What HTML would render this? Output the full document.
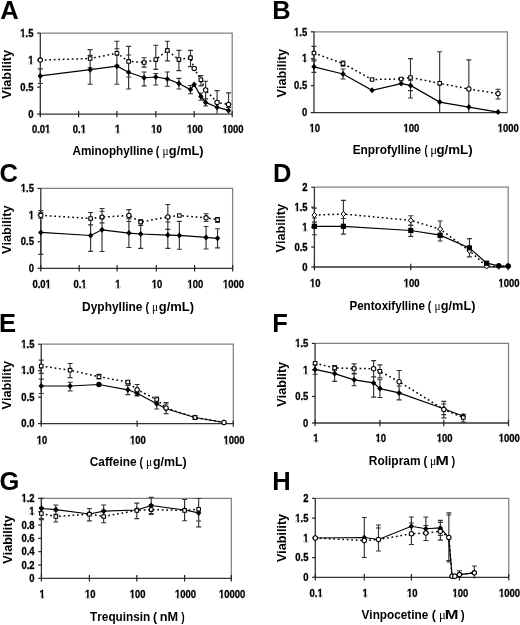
<!DOCTYPE html>
<html><head><meta charset="utf-8"><title>Viability figure</title><style>
html,body{margin:0;padding:0;background:#fff;}
body{width:520px;height:625px;overflow:hidden;}
svg{display:block;will-change:transform;}
text{font-kerning:none;}
text.tk{stroke:#000;stroke-width:0.3px;}
</style></head><body>
<svg width="520" height="625" viewBox="0 0 520 625">
<rect width="520" height="625" fill="#fff"/>
<g>
<path d="M40.3 33.1H232.2V114.1" fill="none" stroke="#808080" stroke-width="1.25"/>
<path d="M40.3 33.1V114.1H232.2" fill="none" stroke="#333" stroke-width="1.3"/>
<path d="M37.10 33.10H40.3" stroke="#222" stroke-width="1.2"/>
<g transform="translate(33.50,36.80) scale(0.91,1)"><text class="tk" font-size="10.4" font-weight="bold" text-anchor="end" font-family="Liberation Sans, sans-serif">1.5</text><rect x="-14.26" y="-1.31" width="2.08" height="1.96" fill="#fff"/><rect x="-10.45" y="-1.31" width="1.88" height="1.96" fill="#fff"/></g>
<path d="M37.10 60.10H40.3" stroke="#222" stroke-width="1.2"/>
<g transform="translate(33.50,63.80) scale(0.91,1)"><text class="tk" font-size="10.4" font-weight="bold" text-anchor="end" font-family="Liberation Sans, sans-serif">1</text><rect x="-5.58" y="-1.31" width="2.08" height="1.96" fill="#fff"/><rect x="-1.77" y="-1.31" width="1.88" height="1.96" fill="#fff"/></g>
<path d="M37.10 87.10H40.3" stroke="#222" stroke-width="1.2"/>
<g transform="translate(33.50,90.80) scale(0.91,1)"><text class="tk" font-size="10.4" font-weight="bold" text-anchor="end" font-family="Liberation Sans, sans-serif">0.5</text></g>
<path d="M37.10 114.10H40.3" stroke="#222" stroke-width="1.2"/>
<g transform="translate(33.50,117.80) scale(0.91,1)"><text class="tk" font-size="10.4" font-weight="bold" text-anchor="end" font-family="Liberation Sans, sans-serif">0</text></g>
<path d="M40.3 110.90V117.30" stroke="#222" stroke-width="1.2"/>
<g transform="translate(41.10,132.80) scale(0.91,1)"><text class="tk" font-size="10.4" font-weight="bold" text-anchor="middle" font-family="Liberation Sans, sans-serif">0.01</text><rect x="4.53" y="-1.31" width="2.08" height="1.96" fill="#fff"/><rect x="8.34" y="-1.31" width="1.88" height="1.96" fill="#fff"/></g>
<path d="M78.6 110.90V117.30" stroke="#222" stroke-width="1.2"/>
<g transform="translate(79.40,132.80) scale(0.91,1)"><text class="tk" font-size="10.4" font-weight="bold" text-anchor="middle" font-family="Liberation Sans, sans-serif">0.1</text><rect x="1.63" y="-1.31" width="2.09" height="1.96" fill="#fff"/><rect x="5.45" y="-1.31" width="1.88" height="1.96" fill="#fff"/></g>
<path d="M116.9 110.90V117.30" stroke="#222" stroke-width="1.2"/>
<g transform="translate(117.70,132.80) scale(0.91,1)"><text class="tk" font-size="10.4" font-weight="bold" text-anchor="middle" font-family="Liberation Sans, sans-serif">1</text><rect x="-2.69" y="-1.31" width="2.08" height="1.96" fill="#fff"/><rect x="1.12" y="-1.31" width="1.88" height="1.96" fill="#fff"/></g>
<path d="M155.8 110.90V117.30" stroke="#222" stroke-width="1.2"/>
<g transform="translate(156.60,132.80) scale(0.91,1)"><text class="tk" font-size="10.4" font-weight="bold" text-anchor="middle" font-family="Liberation Sans, sans-serif">10</text><rect x="-5.58" y="-1.31" width="2.08" height="1.96" fill="#fff"/><rect x="-1.77" y="-1.31" width="1.88" height="1.96" fill="#fff"/></g>
<path d="M194.2 110.90V117.30" stroke="#222" stroke-width="1.2"/>
<g transform="translate(195.00,132.80) scale(0.91,1)"><text class="tk" font-size="10.4" font-weight="bold" text-anchor="middle" font-family="Liberation Sans, sans-serif">100</text><rect x="-8.48" y="-1.31" width="2.08" height="1.96" fill="#fff"/><rect x="-4.67" y="-1.31" width="1.88" height="1.96" fill="#fff"/></g>
<path d="M232.2 110.90V117.30" stroke="#222" stroke-width="1.2"/>
<g transform="translate(233.00,132.80) scale(0.91,1)"><text class="tk" font-size="10.4" font-weight="bold" text-anchor="middle" font-family="Liberation Sans, sans-serif">1000</text><rect x="-11.36" y="-1.31" width="2.08" height="1.96" fill="#fff"/><rect x="-7.55" y="-1.31" width="1.88" height="1.96" fill="#fff"/></g>
<text x="72.41" y="154.8" textLength="80.89" lengthAdjust="spacingAndGlyphs" font-size="12" font-weight="bold" font-family="Liberation Sans, sans-serif">Aminophylline</text>
<text x="155.87" y="154.8" textLength="3.54" lengthAdjust="spacingAndGlyphs" font-size="12" font-weight="bold" font-family="Liberation Sans, sans-serif">(</text>
<text x="162.38" y="154.8" textLength="6.09" lengthAdjust="spacingAndGlyphs" font-size="12" font-family="Liberation Serif, serif">μ</text>
<text x="168.88" y="154.8" textLength="34.76" lengthAdjust="spacingAndGlyphs" font-size="12" font-weight="bold" font-family="Liberation Sans, sans-serif">g/mL)</text>
<text x="0.3" y="19" font-size="25.5" font-weight="bold" font-family="Liberation Sans, sans-serif">A</text>
<text transform="translate(11.1,74.35) rotate(-90)" textLength="48.8" lengthAdjust="spacingAndGlyphs" font-size="12.6" font-weight="bold" text-anchor="middle" font-family="Liberation Sans, sans-serif">Viability</text>
<path d="M90.13 49.6V67.7M87.63 49.6h5M87.63 67.7h5M116.90 41.2V65.4M114.40 41.2h5M114.40 65.4h5M128.61 46.4V77M126.11 46.4h5M126.11 77h5M144.09 57.7V67.1M141.59 57.7h5M141.59 67.1h5M155.80 45.2V69.4M153.30 45.2h5M153.30 69.4h5M167.36 41.2V60.8M164.86 41.2h5M164.86 60.8h5M178.92 50.4V70.6M176.42 50.4h5M176.42 70.6h5M190.48 50.4V66.6M187.98 50.4h5M187.98 66.6h5M200.89 75.6V85.8M198.39 75.6h5M198.39 85.8h5M205.64 81.25V98.75M203.14 81.25h5M203.14 98.75h5M217.08 90.6V113.4M214.58 90.6h5M228.52 92.8V113.4M226.02 92.8h5M40.30 68.8V83.5M37.80 68.8h5M37.80 83.5h5M90.13 55.4V84.2M87.63 55.4h5M87.63 84.2h5M116.90 48.7V84.2M114.40 48.7h5M114.40 84.2h5M128.61 55V89M126.11 55h5M126.11 89h5M144.09 72V85.8M141.59 72h5M141.59 85.8h5M155.80 73.5V85M153.30 73.5h5M153.30 85h5M167.36 72V86.2M164.86 72h5M164.86 86.2h5M178.92 78.4V89M176.42 78.4h5M176.42 89h5M190.48 85.5V93.7M187.98 85.5h5M187.98 93.7h5M200.89 93V100.2M198.39 93h5M198.39 100.2h5M205.64 99V106M203.14 99h5M203.14 106h5M217.08 101V113.4M214.58 101h5M228.52 107.5V113.4M226.02 107.5h5" fill="none" stroke="#333" stroke-width="1.15"/>
<path d="M40.30 60.1 L90.13 58.5 L116.90 53.3 L128.61 61.4 L144.09 62.5 L155.80 59.6 L167.36 50.4 L178.92 59.6 L190.48 57.7 L194.20 68.4 L200.89 79.8 L205.64 90 L217.08 102.4 L228.52 104.4" fill="none" stroke="#000" stroke-width="1.5" stroke-dasharray="1.7,2.8"/>
<path d="M40.30 75.9 L90.13 69.7 L116.90 66.2 L128.61 72.3 L144.09 77.75 L155.80 77 L167.36 78.9 L178.92 83.5 L190.48 89.6 L194.20 84.4 L200.89 96.6 L205.64 102.4 L217.08 107.2 L228.52 110.4" fill="none" stroke="#000" stroke-width="1.2"/>
<circle cx="40.30" cy="60.1" r="2.2" fill="#fff" stroke="#000" stroke-width="1.05"/>
<rect x="88.33" y="56.70" width="3.6" height="3.6" rx="0.3" fill="#fff" stroke="#000" stroke-width="1.1"/>
<rect x="115.10" y="51.50" width="3.6" height="3.6" rx="0.3" fill="#fff" stroke="#000" stroke-width="1.1"/>
<rect x="126.81" y="59.60" width="3.6" height="3.6" rx="0.3" fill="#fff" stroke="#000" stroke-width="1.1"/>
<rect x="142.29" y="60.70" width="3.6" height="3.6" rx="0.3" fill="#fff" stroke="#000" stroke-width="1.1"/>
<rect x="154.00" y="57.80" width="3.6" height="3.6" rx="0.3" fill="#fff" stroke="#000" stroke-width="1.1"/>
<rect x="165.56" y="48.60" width="3.6" height="3.6" rx="0.3" fill="#fff" stroke="#000" stroke-width="1.1"/>
<rect x="177.12" y="57.80" width="3.6" height="3.6" rx="0.3" fill="#fff" stroke="#000" stroke-width="1.1"/>
<rect x="188.68" y="55.90" width="3.6" height="3.6" rx="0.3" fill="#fff" stroke="#000" stroke-width="1.1"/>
<circle cx="194.20" cy="68.4" r="2.2" fill="#fff" stroke="#000" stroke-width="1.05"/>
<rect x="199.09" y="78.00" width="3.6" height="3.6" rx="0.3" fill="#fff" stroke="#000" stroke-width="1.1"/>
<circle cx="205.64" cy="90" r="2.2" fill="#fff" stroke="#000" stroke-width="1.05"/>
<circle cx="217.08" cy="102.4" r="2.2" fill="#fff" stroke="#000" stroke-width="1.05"/>
<circle cx="228.52" cy="104.4" r="2.2" fill="#fff" stroke="#000" stroke-width="1.05"/>
<path d="M40.30 72.90l2.7 3.0l-2.7 3.0l-2.7 -3.0z" fill="#000"/>
<path d="M90.13 66.70l2.7 3.0l-2.7 3.0l-2.7 -3.0z" fill="#000"/>
<path d="M116.90 63.20l2.7 3.0l-2.7 3.0l-2.7 -3.0z" fill="#000"/>
<path d="M128.61 69.30l2.7 3.0l-2.7 3.0l-2.7 -3.0z" fill="#000"/>
<path d="M144.09 74.75l2.7 3.0l-2.7 3.0l-2.7 -3.0z" fill="#000"/>
<path d="M155.80 74.00l2.7 3.0l-2.7 3.0l-2.7 -3.0z" fill="#000"/>
<path d="M167.36 75.90l2.7 3.0l-2.7 3.0l-2.7 -3.0z" fill="#000"/>
<path d="M178.92 80.50l2.7 3.0l-2.7 3.0l-2.7 -3.0z" fill="#000"/>
<path d="M190.48 86.60l2.7 3.0l-2.7 3.0l-2.7 -3.0z" fill="#000"/>
<path d="M194.20 81.40l2.7 3.0l-2.7 3.0l-2.7 -3.0z" fill="#000"/>
<path d="M200.89 93.60l2.7 3.0l-2.7 3.0l-2.7 -3.0z" fill="#000"/>
<path d="M205.64 99.40l2.7 3.0l-2.7 3.0l-2.7 -3.0z" fill="#000"/>
<path d="M217.08 104.20l2.7 3.0l-2.7 3.0l-2.7 -3.0z" fill="#000"/>
<path d="M228.52 107.40l2.7 3.0l-2.7 3.0l-2.7 -3.0z" fill="#000"/>
</g>
<g>
<path d="M313.96 31.8H507.4V112.6" fill="none" stroke="#808080" stroke-width="1.25"/>
<path d="M313.96 31.8V112.6H507.4" fill="none" stroke="#333" stroke-width="1.3"/>
<path d="M310.76 31.80H313.96" stroke="#222" stroke-width="1.2"/>
<g transform="translate(307.16,35.50) scale(0.91,1)"><text class="tk" font-size="10.4" font-weight="bold" text-anchor="end" font-family="Liberation Sans, sans-serif">1.5</text><rect x="-14.26" y="-1.31" width="2.08" height="1.96" fill="#fff"/><rect x="-10.45" y="-1.31" width="1.88" height="1.96" fill="#fff"/></g>
<path d="M310.76 58.73H313.96" stroke="#222" stroke-width="1.2"/>
<g transform="translate(307.16,62.43) scale(0.91,1)"><text class="tk" font-size="10.4" font-weight="bold" text-anchor="end" font-family="Liberation Sans, sans-serif">1</text><rect x="-5.58" y="-1.31" width="2.08" height="1.96" fill="#fff"/><rect x="-1.77" y="-1.31" width="1.88" height="1.96" fill="#fff"/></g>
<path d="M310.76 85.67H313.96" stroke="#222" stroke-width="1.2"/>
<g transform="translate(307.16,89.37) scale(0.91,1)"><text class="tk" font-size="10.4" font-weight="bold" text-anchor="end" font-family="Liberation Sans, sans-serif">0.5</text></g>
<path d="M310.76 112.60H313.96" stroke="#222" stroke-width="1.2"/>
<g transform="translate(307.16,116.30) scale(0.91,1)"><text class="tk" font-size="10.4" font-weight="bold" text-anchor="end" font-family="Liberation Sans, sans-serif">0</text></g>
<g transform="translate(314.76,131.80) scale(0.91,1)"><text class="tk" font-size="10.4" font-weight="bold" text-anchor="middle" font-family="Liberation Sans, sans-serif">10</text><rect x="-5.58" y="-1.31" width="2.08" height="1.96" fill="#fff"/><rect x="-1.77" y="-1.31" width="1.88" height="1.96" fill="#fff"/></g>
<g transform="translate(411.30,131.80) scale(0.91,1)"><text class="tk" font-size="10.4" font-weight="bold" text-anchor="middle" font-family="Liberation Sans, sans-serif">100</text><rect x="-8.48" y="-1.31" width="2.08" height="1.96" fill="#fff"/><rect x="-4.67" y="-1.31" width="1.88" height="1.96" fill="#fff"/></g>
<g transform="translate(508.20,131.80) scale(0.91,1)"><text class="tk" font-size="10.4" font-weight="bold" text-anchor="middle" font-family="Liberation Sans, sans-serif">1000</text><rect x="-11.36" y="-1.31" width="2.08" height="1.96" fill="#fff"/><rect x="-7.55" y="-1.31" width="1.88" height="1.96" fill="#fff"/></g>
<text x="352.71" y="154.3" textLength="68.50" lengthAdjust="spacingAndGlyphs" font-size="12" font-weight="bold" font-family="Liberation Sans, sans-serif">Enprofylline</text>
<text x="424.52" y="154.3" textLength="3.19" lengthAdjust="spacingAndGlyphs" font-size="12" font-weight="bold" font-family="Liberation Sans, sans-serif">(</text>
<text x="430.16" y="154.3" textLength="6.86" lengthAdjust="spacingAndGlyphs" font-size="12" font-family="Liberation Serif, serif">μ</text>
<text x="436.45" y="154.3" textLength="36.21" lengthAdjust="spacingAndGlyphs" font-size="12" font-weight="bold" font-family="Liberation Sans, sans-serif">g/mL)</text>
<text x="272.3" y="19" font-size="25.5" font-weight="bold" font-family="Liberation Sans, sans-serif">B</text>
<text transform="translate(285.7,73.3) rotate(-90)" textLength="48.5" lengthAdjust="spacingAndGlyphs" font-size="12.6" font-weight="bold" text-anchor="middle" font-family="Liberation Sans, sans-serif">Viability</text>
<path d="M313.96 46.3V59.7M311.46 46.3h5M311.46 59.7h5M343.02 61.1V66.1M340.52 61.1h5M340.52 66.1h5M410.50 58.6V98M408.00 58.6h5M408.00 98h5M439.67 51.7V112.6M437.17 51.7h5M468.84 59.8V112.6M466.34 59.8h5M498.01 89.2V99M495.51 89.2h5M495.51 99h5M313.96 61V72.4M311.46 61h5M311.46 72.4h5M343.02 69V79M340.52 69h5M340.52 79h5M410.50 80.2V90.6M408.00 80.2h5M408.00 90.6h5" fill="none" stroke="#333" stroke-width="1.15"/>
<path d="M313.96 53 L343.02 63.6 L372.08 79.5 L401.14 79 L410.50 77.5 L439.67 83.3 L468.84 89 L498.01 93.6" fill="none" stroke="#000" stroke-width="1.5" stroke-dasharray="1.7,2.8"/>
<path d="M313.96 66.8 L343.02 74 L372.08 90.3 L401.14 83.6 L410.50 85.4 L439.67 102.1 L468.84 107.1 L498.01 112.1" fill="none" stroke="#000" stroke-width="1.2"/>
<rect x="312.16" y="51.20" width="3.6" height="3.6" rx="0.3" fill="#fff" stroke="#000" stroke-width="1.1"/>
<rect x="341.22" y="61.80" width="3.6" height="3.6" rx="0.3" fill="#fff" stroke="#000" stroke-width="1.1"/>
<rect x="370.28" y="77.70" width="3.6" height="3.6" rx="0.3" fill="#fff" stroke="#000" stroke-width="1.1"/>
<rect x="399.34" y="77.20" width="3.6" height="3.6" rx="0.3" fill="#fff" stroke="#000" stroke-width="1.1"/>
<rect x="408.70" y="75.70" width="3.6" height="3.6" rx="0.3" fill="#fff" stroke="#000" stroke-width="1.1"/>
<rect x="437.87" y="81.50" width="3.6" height="3.6" rx="0.3" fill="#fff" stroke="#000" stroke-width="1.1"/>
<circle cx="468.84" cy="89" r="2.2" fill="#fff" stroke="#000" stroke-width="1.05"/>
<circle cx="498.01" cy="93.6" r="2.2" fill="#fff" stroke="#000" stroke-width="1.05"/>
<path d="M313.96 63.80l2.7 3.0l-2.7 3.0l-2.7 -3.0z" fill="#000"/>
<path d="M343.02 71.00l2.7 3.0l-2.7 3.0l-2.7 -3.0z" fill="#000"/>
<path d="M372.08 87.30l2.7 3.0l-2.7 3.0l-2.7 -3.0z" fill="#000"/>
<path d="M401.14 80.60l2.7 3.0l-2.7 3.0l-2.7 -3.0z" fill="#000"/>
<path d="M410.50 82.40l2.7 3.0l-2.7 3.0l-2.7 -3.0z" fill="#000"/>
<path d="M439.67 99.10l2.7 3.0l-2.7 3.0l-2.7 -3.0z" fill="#000"/>
<path d="M468.84 104.10l2.7 3.0l-2.7 3.0l-2.7 -3.0z" fill="#000"/>
<path d="M498.01 109.10l2.7 3.0l-2.7 3.0l-2.7 -3.0z" fill="#000"/>
</g>
<g>
<path d="M40.8 188.4H232.6V268.3" fill="none" stroke="#808080" stroke-width="1.25"/>
<path d="M40.8 188.4V268.3H232.6" fill="none" stroke="#333" stroke-width="1.3"/>
<path d="M37.60 188.40H40.8" stroke="#222" stroke-width="1.2"/>
<g transform="translate(34.00,192.10) scale(0.91,1)"><text class="tk" font-size="10.4" font-weight="bold" text-anchor="end" font-family="Liberation Sans, sans-serif">1.5</text><rect x="-14.26" y="-1.31" width="2.08" height="1.96" fill="#fff"/><rect x="-10.45" y="-1.31" width="1.88" height="1.96" fill="#fff"/></g>
<path d="M37.60 215.03H40.8" stroke="#222" stroke-width="1.2"/>
<g transform="translate(34.00,218.73) scale(0.91,1)"><text class="tk" font-size="10.4" font-weight="bold" text-anchor="end" font-family="Liberation Sans, sans-serif">1</text><rect x="-5.58" y="-1.31" width="2.08" height="1.96" fill="#fff"/><rect x="-1.77" y="-1.31" width="1.88" height="1.96" fill="#fff"/></g>
<path d="M37.60 241.67H40.8" stroke="#222" stroke-width="1.2"/>
<g transform="translate(34.00,245.37) scale(0.91,1)"><text class="tk" font-size="10.4" font-weight="bold" text-anchor="end" font-family="Liberation Sans, sans-serif">0.5</text></g>
<path d="M37.60 268.30H40.8" stroke="#222" stroke-width="1.2"/>
<g transform="translate(34.00,272.00) scale(0.91,1)"><text class="tk" font-size="10.4" font-weight="bold" text-anchor="end" font-family="Liberation Sans, sans-serif">0</text></g>
<path d="M40.8 265.10V271.50" stroke="#222" stroke-width="1.2"/>
<g transform="translate(41.60,287.60) scale(0.91,1)"><text class="tk" font-size="10.4" font-weight="bold" text-anchor="middle" font-family="Liberation Sans, sans-serif">0.01</text><rect x="4.53" y="-1.31" width="2.08" height="1.96" fill="#fff"/><rect x="8.34" y="-1.31" width="1.88" height="1.96" fill="#fff"/></g>
<path d="M79.2 265.10V271.50" stroke="#222" stroke-width="1.2"/>
<g transform="translate(80.00,287.60) scale(0.91,1)"><text class="tk" font-size="10.4" font-weight="bold" text-anchor="middle" font-family="Liberation Sans, sans-serif">0.1</text><rect x="1.63" y="-1.31" width="2.09" height="1.96" fill="#fff"/><rect x="5.45" y="-1.31" width="1.88" height="1.96" fill="#fff"/></g>
<path d="M117.1 265.10V271.50" stroke="#222" stroke-width="1.2"/>
<g transform="translate(117.90,287.60) scale(0.91,1)"><text class="tk" font-size="10.4" font-weight="bold" text-anchor="middle" font-family="Liberation Sans, sans-serif">1</text><rect x="-2.69" y="-1.31" width="2.08" height="1.96" fill="#fff"/><rect x="1.12" y="-1.31" width="1.88" height="1.96" fill="#fff"/></g>
<path d="M156.3 265.10V271.50" stroke="#222" stroke-width="1.2"/>
<g transform="translate(157.10,287.60) scale(0.91,1)"><text class="tk" font-size="10.4" font-weight="bold" text-anchor="middle" font-family="Liberation Sans, sans-serif">10</text><rect x="-5.58" y="-1.31" width="2.08" height="1.96" fill="#fff"/><rect x="-1.77" y="-1.31" width="1.88" height="1.96" fill="#fff"/></g>
<path d="M194.6 265.10V271.50" stroke="#222" stroke-width="1.2"/>
<g transform="translate(195.40,287.60) scale(0.91,1)"><text class="tk" font-size="10.4" font-weight="bold" text-anchor="middle" font-family="Liberation Sans, sans-serif">100</text><rect x="-8.48" y="-1.31" width="2.08" height="1.96" fill="#fff"/><rect x="-4.67" y="-1.31" width="1.88" height="1.96" fill="#fff"/></g>
<path d="M232.7 265.10V271.50" stroke="#222" stroke-width="1.2"/>
<g transform="translate(233.50,287.60) scale(0.91,1)"><text class="tk" font-size="10.4" font-weight="bold" text-anchor="middle" font-family="Liberation Sans, sans-serif">1000</text><rect x="-11.36" y="-1.31" width="2.08" height="1.96" fill="#fff"/><rect x="-7.55" y="-1.31" width="1.88" height="1.96" fill="#fff"/></g>
<text x="82.10" y="311.4" textLength="60.41" lengthAdjust="spacingAndGlyphs" font-size="12" font-weight="bold" font-family="Liberation Sans, sans-serif">Dyphylline</text>
<text x="145.47" y="311.4" textLength="3.54" lengthAdjust="spacingAndGlyphs" font-size="12" font-weight="bold" font-family="Liberation Sans, sans-serif">(</text>
<text x="151.98" y="311.4" textLength="6.09" lengthAdjust="spacingAndGlyphs" font-size="12" font-family="Liberation Serif, serif">μ</text>
<text x="158.87" y="311.4" textLength="35.17" lengthAdjust="spacingAndGlyphs" font-size="12" font-weight="bold" font-family="Liberation Sans, sans-serif">g/mL)</text>
<text x="-0.5" y="181.5" font-size="25.5" font-weight="bold" font-family="Liberation Sans, sans-serif">C</text>
<text transform="translate(11.0,229.75) rotate(-90)" textLength="48.6" lengthAdjust="spacingAndGlyphs" font-size="12.6" font-weight="bold" text-anchor="middle" font-family="Liberation Sans, sans-serif">Viability</text>
<path d="M40.80 212.4V218.2M38.30 212.4h5M38.30 218.2h5M90.61 212.5V224.8M88.11 212.5h5M88.11 224.8h5M102.02 211.2V222.9M99.52 211.2h5M99.52 222.9h5M128.90 209.6V221.5M126.40 209.6h5M126.40 221.5h5M140.70 219.5V225.5M138.20 219.5h5M138.20 225.5h5M167.83 204.5V229.4M165.33 204.5h5M165.33 229.4h5M206.07 213.7V221.5M203.57 213.7h5M203.57 221.5h5M217.54 217.5V222.3M215.04 217.5h5M215.04 222.3h5M40.80 210.5V254.3M38.30 210.5h5M38.30 254.3h5M90.61 219.7V251.3M88.11 219.7h5M88.11 251.3h5M102.02 208.5V251.5M99.52 208.5h5M99.52 251.5h5M128.90 218.7V247.5M126.40 218.7h5M126.40 247.5h5M140.70 219.7V248.3M138.20 219.7h5M138.20 248.3h5M167.83 222V248.3M165.33 222h5M165.33 248.3h5M179.36 221.3V249.2M176.86 221.3h5M176.86 249.2h5M206.07 226.5V249M203.57 226.5h5M203.57 249h5M217.54 228.7V247.9M215.04 228.7h5M215.04 247.9h5" fill="none" stroke="#333" stroke-width="1.15"/>
<path d="M40.80 215.3 L90.61 218.5 L102.02 217.1 L128.90 215.5 L140.70 222.1 L167.83 216.9 L179.36 215.5 L206.07 217.8 L217.54 219.7" fill="none" stroke="#000" stroke-width="1.5" stroke-dasharray="1.7,2.8"/>
<path d="M40.80 232.4 L90.61 235.5 L102.02 229.8 L128.90 233.1 L140.70 234 L167.83 235.1 L179.36 235.4 L206.07 237.4 L217.54 238.3" fill="none" stroke="#000" stroke-width="1.2"/>
<circle cx="40.80" cy="215.3" r="2.2" fill="#fff" stroke="#000" stroke-width="1.05"/>
<rect x="88.81" y="216.70" width="3.6" height="3.6" rx="0.3" fill="#fff" stroke="#000" stroke-width="1.1"/>
<rect x="100.22" y="215.30" width="3.6" height="3.6" rx="0.3" fill="#fff" stroke="#000" stroke-width="1.1"/>
<circle cx="128.90" cy="215.5" r="2.2" fill="#fff" stroke="#000" stroke-width="1.05"/>
<rect x="138.90" y="220.30" width="3.6" height="3.6" rx="0.3" fill="#fff" stroke="#000" stroke-width="1.1"/>
<circle cx="167.83" cy="216.9" r="2.2" fill="#fff" stroke="#000" stroke-width="1.05"/>
<rect x="177.56" y="213.70" width="3.6" height="3.6" rx="0.3" fill="#fff" stroke="#000" stroke-width="1.1"/>
<circle cx="206.07" cy="217.8" r="2.2" fill="#fff" stroke="#000" stroke-width="1.05"/>
<rect x="215.74" y="217.90" width="3.6" height="3.6" rx="0.3" fill="#fff" stroke="#000" stroke-width="1.1"/>
<path d="M40.80 229.40l2.7 3.0l-2.7 3.0l-2.7 -3.0z" fill="#000"/>
<path d="M90.61 232.50l2.7 3.0l-2.7 3.0l-2.7 -3.0z" fill="#000"/>
<path d="M102.02 226.80l2.7 3.0l-2.7 3.0l-2.7 -3.0z" fill="#000"/>
<path d="M128.90 230.10l2.7 3.0l-2.7 3.0l-2.7 -3.0z" fill="#000"/>
<path d="M140.70 231.00l2.7 3.0l-2.7 3.0l-2.7 -3.0z" fill="#000"/>
<path d="M167.83 232.10l2.7 3.0l-2.7 3.0l-2.7 -3.0z" fill="#000"/>
<path d="M179.36 232.40l2.7 3.0l-2.7 3.0l-2.7 -3.0z" fill="#000"/>
<path d="M206.07 234.40l2.7 3.0l-2.7 3.0l-2.7 -3.0z" fill="#000"/>
<path d="M217.54 235.30l2.7 3.0l-2.7 3.0l-2.7 -3.0z" fill="#000"/>
</g>
<g>
<path d="M314.4 187.2H508.2V267.0" fill="none" stroke="#808080" stroke-width="1.25"/>
<path d="M314.4 187.2V267.0H508.2" fill="none" stroke="#333" stroke-width="1.3"/>
<path d="M311.20 187.20H314.4" stroke="#222" stroke-width="1.2"/>
<g transform="translate(307.60,190.90) scale(0.91,1)"><text class="tk" font-size="10.4" font-weight="bold" text-anchor="end" font-family="Liberation Sans, sans-serif">2</text></g>
<path d="M311.20 207.15H314.4" stroke="#222" stroke-width="1.2"/>
<g transform="translate(307.60,210.85) scale(0.91,1)"><text class="tk" font-size="10.4" font-weight="bold" text-anchor="end" font-family="Liberation Sans, sans-serif">1.5</text><rect x="-14.26" y="-1.31" width="2.08" height="1.96" fill="#fff"/><rect x="-10.45" y="-1.31" width="1.88" height="1.96" fill="#fff"/></g>
<path d="M311.20 227.10H314.4" stroke="#222" stroke-width="1.2"/>
<g transform="translate(307.60,230.80) scale(0.91,1)"><text class="tk" font-size="10.4" font-weight="bold" text-anchor="end" font-family="Liberation Sans, sans-serif">1</text><rect x="-5.58" y="-1.31" width="2.08" height="1.96" fill="#fff"/><rect x="-1.77" y="-1.31" width="1.88" height="1.96" fill="#fff"/></g>
<path d="M311.20 247.05H314.4" stroke="#222" stroke-width="1.2"/>
<g transform="translate(307.60,250.75) scale(0.91,1)"><text class="tk" font-size="10.4" font-weight="bold" text-anchor="end" font-family="Liberation Sans, sans-serif">0.5</text></g>
<path d="M311.20 267.00H314.4" stroke="#222" stroke-width="1.2"/>
<g transform="translate(307.60,270.70) scale(0.91,1)"><text class="tk" font-size="10.4" font-weight="bold" text-anchor="end" font-family="Liberation Sans, sans-serif">0</text></g>
<path d="M314.4 263.80V270.20" stroke="#222" stroke-width="1.2"/>
<g transform="translate(315.20,286.60) scale(0.91,1)"><text class="tk" font-size="10.4" font-weight="bold" text-anchor="middle" font-family="Liberation Sans, sans-serif">10</text><rect x="-5.58" y="-1.31" width="2.08" height="1.96" fill="#fff"/><rect x="-1.77" y="-1.31" width="1.88" height="1.96" fill="#fff"/></g>
<path d="M410.8 263.80V270.20" stroke="#222" stroke-width="1.2"/>
<g transform="translate(411.60,286.60) scale(0.91,1)"><text class="tk" font-size="10.4" font-weight="bold" text-anchor="middle" font-family="Liberation Sans, sans-serif">100</text><rect x="-8.48" y="-1.31" width="2.08" height="1.96" fill="#fff"/><rect x="-4.67" y="-1.31" width="1.88" height="1.96" fill="#fff"/></g>
<path d="M508.2 263.80V270.20" stroke="#222" stroke-width="1.2"/>
<g transform="translate(509.00,286.60) scale(0.91,1)"><text class="tk" font-size="10.4" font-weight="bold" text-anchor="middle" font-family="Liberation Sans, sans-serif">1000</text><rect x="-11.36" y="-1.31" width="2.08" height="1.96" fill="#fff"/><rect x="-7.55" y="-1.31" width="1.88" height="1.96" fill="#fff"/></g>
<text x="349.42" y="310.2" textLength="75.47" lengthAdjust="spacingAndGlyphs" font-size="12" font-weight="bold" font-family="Liberation Sans, sans-serif">Pentoxifylline</text>
<text x="427.87" y="310.2" textLength="3.54" lengthAdjust="spacingAndGlyphs" font-size="12" font-weight="bold" font-family="Liberation Sans, sans-serif">(</text>
<text x="434.38" y="310.2" textLength="6.09" lengthAdjust="spacingAndGlyphs" font-size="12" font-family="Liberation Serif, serif">μ</text>
<text x="440.78" y="310.2" textLength="34.66" lengthAdjust="spacingAndGlyphs" font-size="12" font-weight="bold" font-family="Liberation Sans, sans-serif">g/mL)</text>
<text x="273.1" y="182" font-size="25.5" font-weight="bold" font-family="Liberation Sans, sans-serif">D</text>
<text transform="translate(285.2,228.3) rotate(-90)" textLength="48.5" lengthAdjust="spacingAndGlyphs" font-size="12.6" font-weight="bold" text-anchor="middle" font-family="Liberation Sans, sans-serif">Viability</text>
<path d="M314.40 208.1V222.1M311.90 208.1h5M311.90 222.1h5M343.42 200.3V227.7M340.92 200.3h5M340.92 227.7h5M410.80 215.7V225.1M408.30 215.7h5M408.30 225.1h5M440.12 221V237.2M437.62 221h5M437.62 237.2h5M314.40 218V234.7M311.90 218h5M311.90 234.7h5M343.42 218.5V234.1M340.92 218.5h5M340.92 234.1h5M410.80 225.5V236.4M408.30 225.5h5M408.30 236.4h5M440.12 229.4V241M437.62 229.4h5M437.62 241h5M469.44 238.6V256.8M466.94 238.6h5M466.94 256.8h5" fill="none" stroke="#333" stroke-width="1.15"/>
<path d="M314.40 215.1 L343.42 214 L410.80 220.4 L440.12 229.1 L469.44 250.8 L486.59 266.3 L498.76 266.5 L508.20 266.5" fill="none" stroke="#000" stroke-width="1.5" stroke-dasharray="1.7,2.8"/>
<path d="M314.40 226.3 L343.42 226.3 L410.80 230.5 L440.12 235.2 L469.44 247.9 L486.59 263.2 L498.76 265.8 L508.20 266" fill="none" stroke="#000" stroke-width="1.2"/>
<path d="M314.40 212.40l2.4 2.7l-2.4 2.7l-2.4 -2.7z" fill="#fff" stroke="#000" stroke-width="1"/>
<path d="M343.42 211.30l2.4 2.7l-2.4 2.7l-2.4 -2.7z" fill="#fff" stroke="#000" stroke-width="1"/>
<path d="M410.80 217.70l2.4 2.7l-2.4 2.7l-2.4 -2.7z" fill="#fff" stroke="#000" stroke-width="1"/>
<path d="M440.12 226.40l2.4 2.7l-2.4 2.7l-2.4 -2.7z" fill="#fff" stroke="#000" stroke-width="1"/>
<path d="M469.44 248.10l2.4 2.7l-2.4 2.7l-2.4 -2.7z" fill="#fff" stroke="#000" stroke-width="1"/>
<path d="M486.59 263.60l2.4 2.7l-2.4 2.7l-2.4 -2.7z" fill="#fff" stroke="#000" stroke-width="1"/>
<path d="M498.76 263.80l2.4 2.7l-2.4 2.7l-2.4 -2.7z" fill="#fff" stroke="#000" stroke-width="1"/>
<path d="M508.20 263.80l2.4 2.7l-2.4 2.7l-2.4 -2.7z" fill="#fff" stroke="#000" stroke-width="1"/>
<rect x="311.80" y="223.70" width="5.2" height="5.2" fill="#000"/>
<rect x="340.82" y="223.70" width="5.2" height="5.2" fill="#000"/>
<rect x="408.20" y="227.90" width="5.2" height="5.2" fill="#000"/>
<rect x="437.52" y="232.60" width="5.2" height="5.2" fill="#000"/>
<rect x="466.84" y="245.30" width="5.2" height="5.2" fill="#000"/>
<rect x="483.99" y="260.60" width="5.2" height="5.2" fill="#000"/>
<circle cx="498.76" cy="265.8" r="2.7" fill="#000"/>
<circle cx="508.20" cy="266" r="2.7" fill="#000"/>
</g>
<g>
<path d="M41.25 344.2H233.3V423.6" fill="none" stroke="#808080" stroke-width="1.25"/>
<path d="M41.25 344.2V423.6H233.3" fill="none" stroke="#333" stroke-width="1.3"/>
<path d="M38.05 344.20H41.25" stroke="#222" stroke-width="1.2"/>
<g transform="translate(34.45,347.90) scale(0.91,1)"><text class="tk" font-size="10.4" font-weight="bold" text-anchor="end" font-family="Liberation Sans, sans-serif">1.5</text><rect x="-14.26" y="-1.31" width="2.08" height="1.96" fill="#fff"/><rect x="-10.45" y="-1.31" width="1.88" height="1.96" fill="#fff"/></g>
<path d="M38.05 370.67H41.25" stroke="#222" stroke-width="1.2"/>
<g transform="translate(34.45,374.37) scale(0.91,1)"><text class="tk" font-size="10.4" font-weight="bold" text-anchor="end" font-family="Liberation Sans, sans-serif">1.0</text><rect x="-14.26" y="-1.31" width="2.08" height="1.96" fill="#fff"/><rect x="-10.45" y="-1.31" width="1.88" height="1.96" fill="#fff"/></g>
<path d="M38.05 397.13H41.25" stroke="#222" stroke-width="1.2"/>
<g transform="translate(34.45,400.83) scale(0.91,1)"><text class="tk" font-size="10.4" font-weight="bold" text-anchor="end" font-family="Liberation Sans, sans-serif">0.5</text></g>
<path d="M38.05 423.60H41.25" stroke="#222" stroke-width="1.2"/>
<g transform="translate(34.45,427.30) scale(0.91,1)"><text class="tk" font-size="10.4" font-weight="bold" text-anchor="end" font-family="Liberation Sans, sans-serif">0.0</text></g>
<path d="M41.25 420.40V426.80" stroke="#222" stroke-width="1.2"/>
<g transform="translate(42.05,443.60) scale(0.91,1)"><text class="tk" font-size="10.4" font-weight="bold" text-anchor="middle" font-family="Liberation Sans, sans-serif">10</text><rect x="-5.58" y="-1.31" width="2.08" height="1.96" fill="#fff"/><rect x="-1.77" y="-1.31" width="1.88" height="1.96" fill="#fff"/></g>
<path d="M137.1 420.40V426.80" stroke="#222" stroke-width="1.2"/>
<g transform="translate(137.90,443.60) scale(0.91,1)"><text class="tk" font-size="10.4" font-weight="bold" text-anchor="middle" font-family="Liberation Sans, sans-serif">100</text><rect x="-8.48" y="-1.31" width="2.08" height="1.96" fill="#fff"/><rect x="-4.67" y="-1.31" width="1.88" height="1.96" fill="#fff"/></g>
<path d="M233.3 420.40V426.80" stroke="#222" stroke-width="1.2"/>
<g transform="translate(234.10,443.60) scale(0.91,1)"><text class="tk" font-size="10.4" font-weight="bold" text-anchor="middle" font-family="Liberation Sans, sans-serif">1000</text><rect x="-11.36" y="-1.31" width="2.08" height="1.96" fill="#fff"/><rect x="-7.55" y="-1.31" width="1.88" height="1.96" fill="#fff"/></g>
<text x="89.71" y="465.9" textLength="46.89" lengthAdjust="spacingAndGlyphs" font-size="12" font-weight="bold" font-family="Liberation Sans, sans-serif">Caffeine</text>
<text x="139.57" y="465.9" textLength="3.54" lengthAdjust="spacingAndGlyphs" font-size="12" font-weight="bold" font-family="Liberation Sans, sans-serif">(</text>
<text x="146.06" y="465.9" textLength="6.22" lengthAdjust="spacingAndGlyphs" font-size="12" font-family="Liberation Serif, serif">μ</text>
<text x="152.99" y="465.9" textLength="33.73" lengthAdjust="spacingAndGlyphs" font-size="12" font-weight="bold" font-family="Liberation Sans, sans-serif">g/mL)</text>
<text x="-0.9" y="332" font-size="25.5" font-weight="bold" font-family="Liberation Sans, sans-serif">E</text>
<text transform="translate(11.2,385.25) rotate(-90)" textLength="48.6" lengthAdjust="spacingAndGlyphs" font-size="12.6" font-weight="bold" text-anchor="middle" font-family="Liberation Sans, sans-serif">Viability</text>
<path d="M41.25 360.1V373.3M38.75 360.1h5M38.75 373.3h5M70.10 363.5V377.6M67.60 363.5h5M67.60 377.6h5M98.96 374.4V379M96.46 374.4h5M96.46 379h5M127.81 380.5V383.7M125.31 380.5h5M125.31 383.7h5M137.10 384.5V395M134.60 384.5h5M134.60 395h5M156.74 397V402M154.24 397h5M154.24 402h5M166.06 402.5V413.5M163.56 402.5h5M163.56 413.5h5M195.02 415.5V419.5M192.52 415.5h5M192.52 419.5h5M41.25 379.1V393.5M38.75 379.1h5M38.75 393.5h5M70.10 382.2V391M67.60 382.2h5M67.60 391h5M127.81 385.5V394.6M125.31 385.5h5M125.31 394.6h5M137.10 390.5V396M134.60 390.5h5M134.60 396h5M156.74 398.5V409M154.24 398.5h5M154.24 409h5M166.06 404V413.75M163.56 404h5M163.56 413.75h5M195.02 415.5V419.5M192.52 415.5h5M192.52 419.5h5" fill="none" stroke="#333" stroke-width="1.15"/>
<path d="M41.25 366.1 L70.10 370.2 L98.96 376.7 L127.81 382.1 L137.10 389.8 L156.74 399.5 L166.06 408 L195.02 417.5 L223.98 422.5" fill="none" stroke="#000" stroke-width="1.5" stroke-dasharray="1.7,2.8"/>
<path d="M41.25 386 L70.10 386 L98.96 384.5 L127.81 389.8 L137.10 393.2 L156.74 403.75 L166.06 408.75 L195.02 417.5 L223.98 422.5" fill="none" stroke="#000" stroke-width="1.2"/>
<path d="M41.25 383.00l2.7 3.0l-2.7 3.0l-2.7 -3.0z" fill="#000"/>
<path d="M70.10 383.00l2.7 3.0l-2.7 3.0l-2.7 -3.0z" fill="#000"/>
<circle cx="98.96" cy="384.5" r="2.7" fill="#000"/>
<path d="M127.81 386.80l2.7 3.0l-2.7 3.0l-2.7 -3.0z" fill="#000"/>
<path d="M137.10 390.20l2.7 3.0l-2.7 3.0l-2.7 -3.0z" fill="#000"/>
<path d="M156.74 400.75l2.7 3.0l-2.7 3.0l-2.7 -3.0z" fill="#000"/>
<path d="M166.06 405.75l2.7 3.0l-2.7 3.0l-2.7 -3.0z" fill="#000"/>
<path d="M195.02 414.50l2.7 3.0l-2.7 3.0l-2.7 -3.0z" fill="#000"/>
<path d="M223.98 419.50l2.7 3.0l-2.7 3.0l-2.7 -3.0z" fill="#000"/>
<rect x="39.45" y="364.30" width="3.6" height="3.6" rx="0.3" fill="#fff" stroke="#000" stroke-width="1.1"/>
<rect x="68.30" y="368.40" width="3.6" height="3.6" rx="0.3" fill="#fff" stroke="#000" stroke-width="1.1"/>
<rect x="97.16" y="374.90" width="3.6" height="3.6" rx="0.3" fill="#fff" stroke="#000" stroke-width="1.1"/>
<rect x="126.01" y="380.30" width="3.6" height="3.6" rx="0.3" fill="#fff" stroke="#000" stroke-width="1.1"/>
<circle cx="137.10" cy="389.8" r="2.2" fill="#fff" stroke="#000" stroke-width="1.05"/>
<rect x="154.94" y="397.70" width="3.6" height="3.6" rx="0.3" fill="#fff" stroke="#000" stroke-width="1.1"/>
<circle cx="166.06" cy="408" r="2.2" fill="#fff" stroke="#000" stroke-width="1.05"/>
<rect x="193.22" y="415.70" width="3.6" height="3.6" rx="0.3" fill="#fff" stroke="#000" stroke-width="1.1"/>
<circle cx="223.98" cy="422.5" r="2.2" fill="#fff" stroke="#000" stroke-width="1.05"/>
</g>
<g>
<path d="M315.1 343.4H508.5V423.0" fill="none" stroke="#808080" stroke-width="1.25"/>
<path d="M315.1 343.4V423.0H508.5" fill="none" stroke="#333" stroke-width="1.3"/>
<path d="M311.90 343.40H315.1" stroke="#222" stroke-width="1.2"/>
<g transform="translate(308.30,347.10) scale(0.91,1)"><text class="tk" font-size="10.4" font-weight="bold" text-anchor="end" font-family="Liberation Sans, sans-serif">1.5</text><rect x="-14.26" y="-1.31" width="2.08" height="1.96" fill="#fff"/><rect x="-10.45" y="-1.31" width="1.88" height="1.96" fill="#fff"/></g>
<path d="M311.90 369.93H315.1" stroke="#222" stroke-width="1.2"/>
<g transform="translate(308.30,373.63) scale(0.91,1)"><text class="tk" font-size="10.4" font-weight="bold" text-anchor="end" font-family="Liberation Sans, sans-serif">1</text><rect x="-5.58" y="-1.31" width="2.08" height="1.96" fill="#fff"/><rect x="-1.77" y="-1.31" width="1.88" height="1.96" fill="#fff"/></g>
<path d="M311.90 396.47H315.1" stroke="#222" stroke-width="1.2"/>
<g transform="translate(308.30,400.17) scale(0.91,1)"><text class="tk" font-size="10.4" font-weight="bold" text-anchor="end" font-family="Liberation Sans, sans-serif">0.5</text></g>
<path d="M311.90 423.00H315.1" stroke="#222" stroke-width="1.2"/>
<g transform="translate(308.30,426.70) scale(0.91,1)"><text class="tk" font-size="10.4" font-weight="bold" text-anchor="end" font-family="Liberation Sans, sans-serif">0</text></g>
<path d="M315.1 419.80V426.20" stroke="#222" stroke-width="1.2"/>
<g transform="translate(315.90,442.20) scale(0.91,1)"><text class="tk" font-size="10.4" font-weight="bold" text-anchor="middle" font-family="Liberation Sans, sans-serif">1</text><rect x="-2.69" y="-1.31" width="2.08" height="1.96" fill="#fff"/><rect x="1.12" y="-1.31" width="1.88" height="1.96" fill="#fff"/></g>
<path d="M379.9 419.80V426.20" stroke="#222" stroke-width="1.2"/>
<g transform="translate(380.70,442.20) scale(0.91,1)"><text class="tk" font-size="10.4" font-weight="bold" text-anchor="middle" font-family="Liberation Sans, sans-serif">10</text><rect x="-5.58" y="-1.31" width="2.08" height="1.96" fill="#fff"/><rect x="-1.77" y="-1.31" width="1.88" height="1.96" fill="#fff"/></g>
<path d="M443.8 419.80V426.20" stroke="#222" stroke-width="1.2"/>
<g transform="translate(444.60,442.20) scale(0.91,1)"><text class="tk" font-size="10.4" font-weight="bold" text-anchor="middle" font-family="Liberation Sans, sans-serif">100</text><rect x="-8.48" y="-1.31" width="2.08" height="1.96" fill="#fff"/><rect x="-4.67" y="-1.31" width="1.88" height="1.96" fill="#fff"/></g>
<path d="M508.5 419.80V426.20" stroke="#222" stroke-width="1.2"/>
<g transform="translate(509.30,442.20) scale(0.91,1)"><text class="tk" font-size="10.4" font-weight="bold" text-anchor="middle" font-family="Liberation Sans, sans-serif">1000</text><rect x="-11.36" y="-1.31" width="2.08" height="1.96" fill="#fff"/><rect x="-7.55" y="-1.31" width="1.88" height="1.96" fill="#fff"/></g>
<text x="368.80" y="465.1" textLength="51.74" lengthAdjust="spacingAndGlyphs" font-size="12" font-weight="bold" font-family="Liberation Sans, sans-serif">Rolipram</text>
<text x="423.44" y="465.1" textLength="3.78" lengthAdjust="spacingAndGlyphs" font-size="12" font-weight="bold" font-family="Liberation Sans, sans-serif">(</text>
<text x="429.96" y="465.1" textLength="6.22" lengthAdjust="spacingAndGlyphs" font-size="12" font-family="Liberation Serif, serif">μ</text>
<text x="435.63" y="465.1" textLength="13.34" lengthAdjust="spacingAndGlyphs" font-size="12" font-weight="bold" font-family="Liberation Sans, sans-serif">M</text>
<text x="451.59" y="465.1" textLength="3.66" lengthAdjust="spacingAndGlyphs" font-size="12" font-weight="bold" font-family="Liberation Sans, sans-serif">)</text>
<text x="272.3" y="332" font-size="25.5" font-weight="bold" font-family="Liberation Sans, sans-serif">F</text>
<text transform="translate(285.5,384.3) rotate(-90)" textLength="44.7" lengthAdjust="spacingAndGlyphs" font-size="12.6" font-weight="bold" text-anchor="middle" font-family="Liberation Sans, sans-serif">Viablity</text>
<path d="M334.61 365.6V370.2M332.11 365.6h5M332.11 370.2h5M354.11 363.8V373.2M351.61 363.8h5M351.61 373.2h5M373.62 360.6V376.8M371.12 360.6h5M371.12 376.8h5M379.90 364.8V377.8M377.40 364.8h5M377.40 377.8h5M399.14 370.5V392.9M396.64 370.5h5M396.64 392.9h5M443.80 404V414.6M441.30 404h5M441.30 414.6h5M463.28 414.4V422.1M460.78 414.4h5M460.78 422.1h5M315.10 364.5V374.2M312.60 364.5h5M312.60 374.2h5M334.61 365.8V381.4M332.11 365.8h5M332.11 381.4h5M354.11 374V385.75M351.61 374h5M351.61 385.75h5M373.62 368.7V397.1M371.12 368.7h5M371.12 397.1h5M379.90 379.7V397.5M377.40 379.7h5M377.40 397.5h5M399.14 386V399.8M396.64 386h5M396.64 399.8h5M443.80 401.3V417.8M441.30 401.3h5M441.30 417.8h5" fill="none" stroke="#333" stroke-width="1.15"/>
<path d="M315.10 363.3 L334.61 367.9 L354.11 368.5 L373.62 368.7 L379.90 371.3 L399.14 381.7 L443.80 409.4 L463.28 417.5" fill="none" stroke="#000" stroke-width="1.5" stroke-dasharray="1.7,2.8"/>
<path d="M315.10 369.4 L334.61 373.6 L354.11 379.8 L373.62 382.9 L379.90 388.6 L399.14 392.9 L443.80 408.75 L463.28 416.25" fill="none" stroke="#000" stroke-width="1.2"/>
<path d="M315.10 366.40l2.7 3.0l-2.7 3.0l-2.7 -3.0z" fill="#000"/>
<path d="M334.61 370.60l2.7 3.0l-2.7 3.0l-2.7 -3.0z" fill="#000"/>
<path d="M354.11 376.80l2.7 3.0l-2.7 3.0l-2.7 -3.0z" fill="#000"/>
<path d="M373.62 379.90l2.7 3.0l-2.7 3.0l-2.7 -3.0z" fill="#000"/>
<path d="M379.90 385.60l2.7 3.0l-2.7 3.0l-2.7 -3.0z" fill="#000"/>
<path d="M399.14 389.90l2.7 3.0l-2.7 3.0l-2.7 -3.0z" fill="#000"/>
<path d="M443.80 405.75l2.7 3.0l-2.7 3.0l-2.7 -3.0z" fill="#000"/>
<path d="M463.28 413.25l2.7 3.0l-2.7 3.0l-2.7 -3.0z" fill="#000"/>
<rect x="313.30" y="361.50" width="3.6" height="3.6" rx="0.3" fill="#fff" stroke="#000" stroke-width="1.1"/>
<rect x="332.81" y="366.10" width="3.6" height="3.6" rx="0.3" fill="#fff" stroke="#000" stroke-width="1.1"/>
<rect x="352.31" y="366.70" width="3.6" height="3.6" rx="0.3" fill="#fff" stroke="#000" stroke-width="1.1"/>
<circle cx="373.62" cy="368.7" r="2.2" fill="#fff" stroke="#000" stroke-width="1.05"/>
<rect x="378.10" y="369.50" width="3.6" height="3.6" rx="0.3" fill="#fff" stroke="#000" stroke-width="1.1"/>
<circle cx="399.14" cy="381.7" r="2.2" fill="#fff" stroke="#000" stroke-width="1.05"/>
<circle cx="443.80" cy="409.4" r="2.2" fill="#fff" stroke="#000" stroke-width="1.05"/>
<rect x="461.48" y="415.70" width="3.6" height="3.6" rx="0.3" fill="#fff" stroke="#000" stroke-width="1.1"/>
</g>
<g>
<path d="M41.4 498.4H231.3V578.3" fill="none" stroke="#808080" stroke-width="1.25"/>
<path d="M41.4 498.4V578.3H231.3" fill="none" stroke="#333" stroke-width="1.3"/>
<path d="M38.20 498.40H41.4" stroke="#222" stroke-width="1.2"/>
<g transform="translate(34.60,502.10) scale(0.91,1)"><text class="tk" font-size="10.4" font-weight="bold" text-anchor="end" font-family="Liberation Sans, sans-serif">1.2</text><rect x="-14.26" y="-1.31" width="2.08" height="1.96" fill="#fff"/><rect x="-10.45" y="-1.31" width="1.88" height="1.96" fill="#fff"/></g>
<path d="M38.20 511.72H41.4" stroke="#222" stroke-width="1.2"/>
<g transform="translate(34.60,515.42) scale(0.91,1)"><text class="tk" font-size="10.4" font-weight="bold" text-anchor="end" font-family="Liberation Sans, sans-serif">1</text><rect x="-5.58" y="-1.31" width="2.08" height="1.96" fill="#fff"/><rect x="-1.77" y="-1.31" width="1.88" height="1.96" fill="#fff"/></g>
<path d="M38.20 525.03H41.4" stroke="#222" stroke-width="1.2"/>
<g transform="translate(34.60,528.73) scale(0.91,1)"><text class="tk" font-size="10.4" font-weight="bold" text-anchor="end" font-family="Liberation Sans, sans-serif">0.8</text></g>
<path d="M38.20 538.35H41.4" stroke="#222" stroke-width="1.2"/>
<g transform="translate(34.60,542.05) scale(0.91,1)"><text class="tk" font-size="10.4" font-weight="bold" text-anchor="end" font-family="Liberation Sans, sans-serif">0.6</text></g>
<path d="M38.20 551.67H41.4" stroke="#222" stroke-width="1.2"/>
<g transform="translate(34.60,555.37) scale(0.91,1)"><text class="tk" font-size="10.4" font-weight="bold" text-anchor="end" font-family="Liberation Sans, sans-serif">0.4</text></g>
<path d="M38.20 564.98H41.4" stroke="#222" stroke-width="1.2"/>
<g transform="translate(34.60,568.68) scale(0.91,1)"><text class="tk" font-size="10.4" font-weight="bold" text-anchor="end" font-family="Liberation Sans, sans-serif">0.2</text></g>
<path d="M38.20 578.30H41.4" stroke="#222" stroke-width="1.2"/>
<g transform="translate(34.60,582.00) scale(0.91,1)"><text class="tk" font-size="10.4" font-weight="bold" text-anchor="end" font-family="Liberation Sans, sans-serif">0</text></g>
<path d="M41.4 575.10V581.50" stroke="#222" stroke-width="1.2"/>
<g transform="translate(42.20,597.80) scale(0.91,1)"><text class="tk" font-size="10.4" font-weight="bold" text-anchor="middle" font-family="Liberation Sans, sans-serif">1</text><rect x="-2.69" y="-1.31" width="2.08" height="1.96" fill="#fff"/><rect x="1.12" y="-1.31" width="1.88" height="1.96" fill="#fff"/></g>
<path d="M89.4 575.10V581.50" stroke="#222" stroke-width="1.2"/>
<g transform="translate(90.20,597.80) scale(0.91,1)"><text class="tk" font-size="10.4" font-weight="bold" text-anchor="middle" font-family="Liberation Sans, sans-serif">10</text><rect x="-5.58" y="-1.31" width="2.08" height="1.96" fill="#fff"/><rect x="-1.77" y="-1.31" width="1.88" height="1.96" fill="#fff"/></g>
<path d="M136.8 575.10V581.50" stroke="#222" stroke-width="1.2"/>
<g transform="translate(137.60,597.80) scale(0.91,1)"><text class="tk" font-size="10.4" font-weight="bold" text-anchor="middle" font-family="Liberation Sans, sans-serif">100</text><rect x="-8.48" y="-1.31" width="2.08" height="1.96" fill="#fff"/><rect x="-4.67" y="-1.31" width="1.88" height="1.96" fill="#fff"/></g>
<path d="M184.6 575.10V581.50" stroke="#222" stroke-width="1.2"/>
<g transform="translate(185.40,597.80) scale(0.91,1)"><text class="tk" font-size="10.4" font-weight="bold" text-anchor="middle" font-family="Liberation Sans, sans-serif">1000</text><rect x="-11.36" y="-1.31" width="2.08" height="1.96" fill="#fff"/><rect x="-7.55" y="-1.31" width="1.88" height="1.96" fill="#fff"/></g>
<path d="M231.3 575.10V581.50" stroke="#222" stroke-width="1.2"/>
<g transform="translate(232.10,597.80) scale(0.91,1)"><text class="tk" font-size="10.4" font-weight="bold" text-anchor="middle" font-family="Liberation Sans, sans-serif">10000</text><rect x="-14.25" y="-1.31" width="2.08" height="1.96" fill="#fff"/><rect x="-10.44" y="-1.31" width="1.88" height="1.96" fill="#fff"/></g>
<text x="90.07" y="620.8" textLength="60.26" lengthAdjust="spacingAndGlyphs" font-size="12" font-weight="bold" font-family="Liberation Sans, sans-serif">Trequinsin</text>
<text x="152.98" y="620.8" textLength="4.13" lengthAdjust="spacingAndGlyphs" font-size="12" font-weight="bold" font-family="Liberation Sans, sans-serif">(</text>
<text x="159.76" y="620.8" textLength="18.39" lengthAdjust="spacingAndGlyphs" font-size="12" font-weight="bold" font-family="Liberation Sans, sans-serif">nM</text>
<text x="181.29" y="620.8" textLength="3.42" lengthAdjust="spacingAndGlyphs" font-size="12" font-weight="bold" font-family="Liberation Sans, sans-serif">)</text>
<text x="-0.5" y="489.6" font-size="25.5" font-weight="bold" font-family="Liberation Sans, sans-serif">G</text>
<text transform="translate(12.1,539.6) rotate(-90)" textLength="48.1" lengthAdjust="spacingAndGlyphs" font-size="12.6" font-weight="bold" text-anchor="middle" font-family="Liberation Sans, sans-serif">Viability</text>
<path d="M41.40 507.4V519.6M38.90 507.4h5M38.90 519.6h5M55.85 511V522M53.35 511h5M53.35 522h5M89.40 508.5V520.8M86.90 508.5h5M86.90 520.8h5M103.67 510.3V522.7M101.17 510.3h5M101.17 522.7h5M136.80 503.1V518.6M134.30 503.1h5M134.30 518.6h5M151.19 504.7V514.5M148.69 504.7h5M148.69 514.5h5M184.60 499.5V520.7M182.10 499.5h5M182.10 520.7h5M198.66 498.5V521M196.16 498.5h5M196.16 521h5M41.40 498.4V518.6M38.90 498.4h5M38.90 518.6h5M55.85 505V514.2M53.35 505h5M53.35 514.2h5M103.67 505V517.4M101.17 505h5M101.17 517.4h5M151.19 497.4V513.6M148.69 497.4h5M148.69 513.6h5M198.66 498.5V526.8M196.16 498.5h5M196.16 526.8h5" fill="none" stroke="#333" stroke-width="1.15"/>
<path d="M41.40 513.5 L55.85 516.5 L89.40 514.2 L103.67 516.5 L136.80 510.4 L151.19 509.6 L184.60 510.4 L198.66 509.3" fill="none" stroke="#000" stroke-width="1.5" stroke-dasharray="1.7,2.8"/>
<path d="M41.40 508.5 L55.85 509.6 L89.40 514 L103.67 511.2 L136.80 510 L151.19 505.5 L184.60 510 L198.66 512.9" fill="none" stroke="#000" stroke-width="1.2"/>
<path d="M41.40 505.50l2.7 3.0l-2.7 3.0l-2.7 -3.0z" fill="#000"/>
<path d="M55.85 506.60l2.7 3.0l-2.7 3.0l-2.7 -3.0z" fill="#000"/>
<path d="M89.40 511.00l2.7 3.0l-2.7 3.0l-2.7 -3.0z" fill="#000"/>
<path d="M103.67 508.20l2.7 3.0l-2.7 3.0l-2.7 -3.0z" fill="#000"/>
<path d="M136.80 507.00l2.7 3.0l-2.7 3.0l-2.7 -3.0z" fill="#000"/>
<path d="M151.19 502.50l2.7 3.0l-2.7 3.0l-2.7 -3.0z" fill="#000"/>
<path d="M184.60 507.00l2.7 3.0l-2.7 3.0l-2.7 -3.0z" fill="#000"/>
<path d="M198.66 509.90l2.7 3.0l-2.7 3.0l-2.7 -3.0z" fill="#000"/>
<rect x="39.60" y="511.70" width="3.6" height="3.6" rx="0.3" fill="#fff" stroke="#000" stroke-width="1.1"/>
<rect x="54.05" y="514.70" width="3.6" height="3.6" rx="0.3" fill="#fff" stroke="#000" stroke-width="1.1"/>
<rect x="87.60" y="512.40" width="3.6" height="3.6" rx="0.3" fill="#fff" stroke="#000" stroke-width="1.1"/>
<rect x="101.87" y="514.70" width="3.6" height="3.6" rx="0.3" fill="#fff" stroke="#000" stroke-width="1.1"/>
<rect x="135.00" y="508.60" width="3.6" height="3.6" rx="0.3" fill="#fff" stroke="#000" stroke-width="1.1"/>
<rect x="149.39" y="507.80" width="3.6" height="3.6" rx="0.3" fill="#fff" stroke="#000" stroke-width="1.1"/>
<rect x="182.80" y="508.60" width="3.6" height="3.6" rx="0.3" fill="#fff" stroke="#000" stroke-width="1.1"/>
<rect x="196.86" y="507.50" width="3.6" height="3.6" rx="0.3" fill="#fff" stroke="#000" stroke-width="1.1"/>
</g>
<g>
<path d="M315.3 498.4H508.75V577.3" fill="none" stroke="#808080" stroke-width="1.25"/>
<path d="M315.3 498.4V577.3H508.75" fill="none" stroke="#333" stroke-width="1.3"/>
<path d="M312.10 498.40H315.3" stroke="#222" stroke-width="1.2"/>
<g transform="translate(308.50,502.10) scale(0.91,1)"><text class="tk" font-size="10.4" font-weight="bold" text-anchor="end" font-family="Liberation Sans, sans-serif">2</text></g>
<path d="M312.10 518.12H315.3" stroke="#222" stroke-width="1.2"/>
<g transform="translate(308.50,521.83) scale(0.91,1)"><text class="tk" font-size="10.4" font-weight="bold" text-anchor="end" font-family="Liberation Sans, sans-serif">1.5</text><rect x="-14.26" y="-1.31" width="2.08" height="1.96" fill="#fff"/><rect x="-10.45" y="-1.31" width="1.88" height="1.96" fill="#fff"/></g>
<path d="M312.10 537.85H315.3" stroke="#222" stroke-width="1.2"/>
<g transform="translate(308.50,541.55) scale(0.91,1)"><text class="tk" font-size="10.4" font-weight="bold" text-anchor="end" font-family="Liberation Sans, sans-serif">1</text><rect x="-5.58" y="-1.31" width="2.08" height="1.96" fill="#fff"/><rect x="-1.77" y="-1.31" width="1.88" height="1.96" fill="#fff"/></g>
<path d="M312.10 557.57H315.3" stroke="#222" stroke-width="1.2"/>
<g transform="translate(308.50,561.27) scale(0.91,1)"><text class="tk" font-size="10.4" font-weight="bold" text-anchor="end" font-family="Liberation Sans, sans-serif">0.5</text></g>
<path d="M312.10 577.30H315.3" stroke="#222" stroke-width="1.2"/>
<g transform="translate(308.50,581.00) scale(0.91,1)"><text class="tk" font-size="10.4" font-weight="bold" text-anchor="end" font-family="Liberation Sans, sans-serif">0</text></g>
<path d="M315.3 574.10V580.50" stroke="#222" stroke-width="1.2"/>
<g transform="translate(316.10,597.00) scale(0.91,1)"><text class="tk" font-size="10.4" font-weight="bold" text-anchor="middle" font-family="Liberation Sans, sans-serif">0.1</text><rect x="1.63" y="-1.31" width="2.09" height="1.96" fill="#fff"/><rect x="5.45" y="-1.31" width="1.88" height="1.96" fill="#fff"/></g>
<path d="M364.3 574.10V580.50" stroke="#222" stroke-width="1.2"/>
<g transform="translate(365.10,597.00) scale(0.91,1)"><text class="tk" font-size="10.4" font-weight="bold" text-anchor="middle" font-family="Liberation Sans, sans-serif">1</text><rect x="-2.69" y="-1.31" width="2.08" height="1.96" fill="#fff"/><rect x="1.12" y="-1.31" width="1.88" height="1.96" fill="#fff"/></g>
<path d="M411.4 574.10V580.50" stroke="#222" stroke-width="1.2"/>
<g transform="translate(412.20,597.00) scale(0.91,1)"><text class="tk" font-size="10.4" font-weight="bold" text-anchor="middle" font-family="Liberation Sans, sans-serif">10</text><rect x="-5.58" y="-1.31" width="2.08" height="1.96" fill="#fff"/><rect x="-1.77" y="-1.31" width="1.88" height="1.96" fill="#fff"/></g>
<path d="M459.5 574.10V580.50" stroke="#222" stroke-width="1.2"/>
<g transform="translate(460.30,597.00) scale(0.91,1)"><text class="tk" font-size="10.4" font-weight="bold" text-anchor="middle" font-family="Liberation Sans, sans-serif">100</text><rect x="-8.48" y="-1.31" width="2.08" height="1.96" fill="#fff"/><rect x="-4.67" y="-1.31" width="1.88" height="1.96" fill="#fff"/></g>
<path d="M508.75 574.10V580.50" stroke="#222" stroke-width="1.2"/>
<g transform="translate(509.55,597.00) scale(0.91,1)"><text class="tk" font-size="10.4" font-weight="bold" text-anchor="middle" font-family="Liberation Sans, sans-serif">1000</text><rect x="-11.36" y="-1.31" width="2.08" height="1.96" fill="#fff"/><rect x="-7.55" y="-1.31" width="1.88" height="1.96" fill="#fff"/></g>
<text x="361.52" y="619.2" textLength="66.78" lengthAdjust="spacingAndGlyphs" font-size="12" font-weight="bold" font-family="Liberation Sans, sans-serif">Vinpocetine</text>
<text x="431.88" y="619.2" textLength="4.13" lengthAdjust="spacingAndGlyphs" font-size="12" font-weight="bold" font-family="Liberation Sans, sans-serif">(</text>
<text x="438.98" y="619.2" textLength="6.73" lengthAdjust="spacingAndGlyphs" font-size="12" font-family="Liberation Serif, serif">μ</text>
<text x="444.70" y="619.2" textLength="13.70" lengthAdjust="spacingAndGlyphs" font-size="12" font-weight="bold" font-family="Liberation Sans, sans-serif">M</text>
<text x="460.69" y="619.2" textLength="3.89" lengthAdjust="spacingAndGlyphs" font-size="12" font-weight="bold" font-family="Liberation Sans, sans-serif">)</text>
<text x="272.3" y="490" font-size="25.5" font-weight="bold" font-family="Liberation Sans, sans-serif">H</text>
<text transform="translate(286.4,538.0) rotate(-90)" textLength="48.1" lengthAdjust="spacingAndGlyphs" font-size="12.6" font-weight="bold" text-anchor="middle" font-family="Liberation Sans, sans-serif">Viability</text>
<path d="M378.48 528V551M375.98 528h5M375.98 551h5M411.40 523V544.5M408.90 523h5M408.90 544.5h5M425.88 525.5V540.5M423.38 525.5h5M423.38 540.5h5M440.36 522.4V540.1M437.86 522.4h5M437.86 540.1h5M448.83 515V560.5M446.33 515h5M446.33 560.5h5M364.30 517.5V557.5M361.80 517.5h5M361.80 557.5h5M378.48 525V551M375.98 525h5M375.98 551h5M411.40 517V535.5M408.90 517h5M408.90 535.5h5M425.88 517V540.5M423.38 517h5M423.38 540.5h5M440.36 520.4V535.4M437.86 520.4h5M437.86 535.4h5M448.83 512.9V562M446.33 512.9h5M446.33 562h5M459.50 570.7V577.2M457.00 570.7h5M474.33 566V578.6M471.83 566h5" fill="none" stroke="#333" stroke-width="1.15"/>
<path d="M315.30 538 L364.30 540.5 L378.48 539.5 L411.40 533.75 L425.88 533 L440.36 531.3 L448.83 537.4 L452.05 576.2 L454.84 576.2 L459.50 574.6 L474.33 572.8" fill="none" stroke="#000" stroke-width="1.5" stroke-dasharray="1.7,2.8"/>
<path d="M315.30 538 L364.30 537.5 L378.48 539.5 L411.40 526.25 L425.88 528.75 L440.36 527.9 L448.83 537.4 L452.05 576.2 L454.84 576.2 L459.50 574.6 L474.33 572.8" fill="none" stroke="#000" stroke-width="1.2"/>
<path d="M315.30 535.00l2.7 3.0l-2.7 3.0l-2.7 -3.0z" fill="#000"/>
<path d="M364.30 534.50l2.7 3.0l-2.7 3.0l-2.7 -3.0z" fill="#000"/>
<path d="M378.48 536.50l2.7 3.0l-2.7 3.0l-2.7 -3.0z" fill="#000"/>
<path d="M411.40 523.25l2.7 3.0l-2.7 3.0l-2.7 -3.0z" fill="#000"/>
<path d="M425.88 525.75l2.7 3.0l-2.7 3.0l-2.7 -3.0z" fill="#000"/>
<path d="M440.36 524.90l2.7 3.0l-2.7 3.0l-2.7 -3.0z" fill="#000"/>
<path d="M448.83 534.40l2.7 3.0l-2.7 3.0l-2.7 -3.0z" fill="#000"/>
<path d="M452.05 573.20l2.7 3.0l-2.7 3.0l-2.7 -3.0z" fill="#000"/>
<path d="M454.84 573.20l2.7 3.0l-2.7 3.0l-2.7 -3.0z" fill="#000"/>
<path d="M459.50 571.60l2.7 3.0l-2.7 3.0l-2.7 -3.0z" fill="#000"/>
<path d="M474.33 569.80l2.7 3.0l-2.7 3.0l-2.7 -3.0z" fill="#000"/>
<circle cx="315.30" cy="538" r="2.2" fill="#fff" stroke="#000" stroke-width="1.05"/>
<circle cx="364.30" cy="540.5" r="2.2" fill="#fff" stroke="#000" stroke-width="1.05"/>
<circle cx="378.48" cy="539.5" r="2.2" fill="#fff" stroke="#000" stroke-width="1.05"/>
<circle cx="411.40" cy="533.75" r="2.2" fill="#fff" stroke="#000" stroke-width="1.05"/>
<circle cx="425.88" cy="533" r="2.2" fill="#fff" stroke="#000" stroke-width="1.05"/>
<circle cx="440.36" cy="531.3" r="2.2" fill="#fff" stroke="#000" stroke-width="1.05"/>
<circle cx="448.83" cy="537.4" r="2.2" fill="#fff" stroke="#000" stroke-width="1.05"/>
<circle cx="452.05" cy="576.2" r="2.2" fill="#fff" stroke="#000" stroke-width="1.05"/>
<circle cx="454.84" cy="576.2" r="2.2" fill="#fff" stroke="#000" stroke-width="1.05"/>
<circle cx="459.50" cy="574.6" r="2.2" fill="#fff" stroke="#000" stroke-width="1.05"/>
<circle cx="474.33" cy="572.8" r="2.2" fill="#fff" stroke="#000" stroke-width="1.05"/>
</g>
</svg>
</body></html>
